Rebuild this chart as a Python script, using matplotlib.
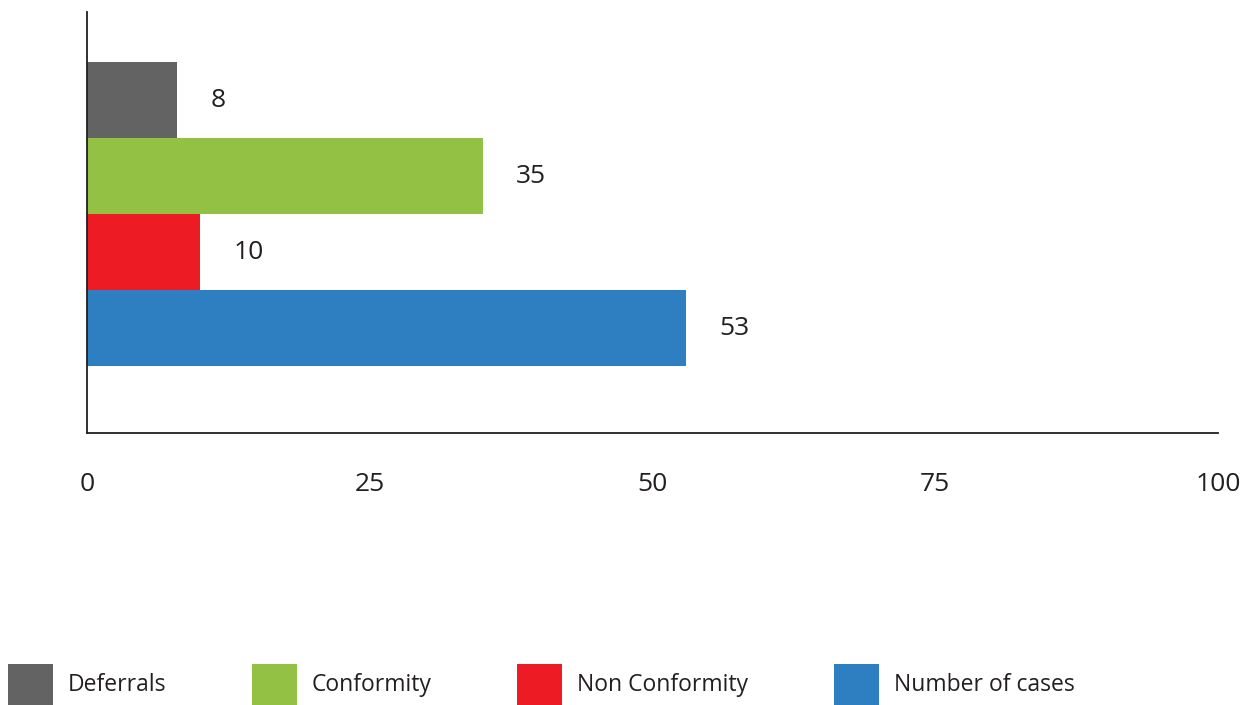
import matplotlib.pyplot as plt
from matplotlib.patches import Patch

plt.rcParams['font.family'] = ['Open Sans', 'DejaVu Sans']

categories = ["Number of cases", "Non Conformity", "Conformity", "Deferrals"]
values = [53, 10, 35, 8]
colors = ["#2d7fc1", "#ed1c24", "#92c143", "#636363"]
xticks = [0, 25, 50, 75, 100]
legend_order = ["Deferrals", "Conformity", "Non Conformity", "Number of cases"]

text_color = "#231f20"

fig = plt.figure(figsize=(12.53, 7.05), dpi=100)
ax = fig.add_axes([87 / 1253, 1 - 433 / 705, (1218 - 87) / 1253, (433 - 12) / 705])

pos = range(len(categories))
ax.barh(pos, values, height=1.0, color=colors)
for p, v in zip(pos, values):
    ax.annotate(str(v), (v, p), xytext=(24, 0), textcoords="offset points",
                va="center", ha="left", fontsize=19, color=text_color)

ax.set_xlim(0, 100)
ax.set_ylim(-1.38, 4.16)
ax.set_xticks(xticks)
ax.set_yticks([])
ax.tick_params(axis="x", length=0, pad=28, labelsize=19, labelcolor=text_color)
for s in ["top", "right"]:
    ax.spines[s].set_visible(False)
for s in ["left", "bottom"]:
    ax.spines[s].set_color("#231f20")
    ax.spines[s].set_linewidth(1.3)

cmap = dict(zip(categories, colors))
handles = [Patch(facecolor=cmap[c], label=c) for c in legend_order]
fig.legend(handles=handles, loc="lower left", bbox_to_anchor=(8 / 1253, 0.0),
           ncol=4, frameon=False, fontsize=16.5, handlelength=1.95, handleheight=2.4,
           handletextpad=0.65, columnspacing=3.75, borderpad=0, borderaxespad=0,
           labelcolor=text_color)

fig.savefig("out.png", dpi=100)
